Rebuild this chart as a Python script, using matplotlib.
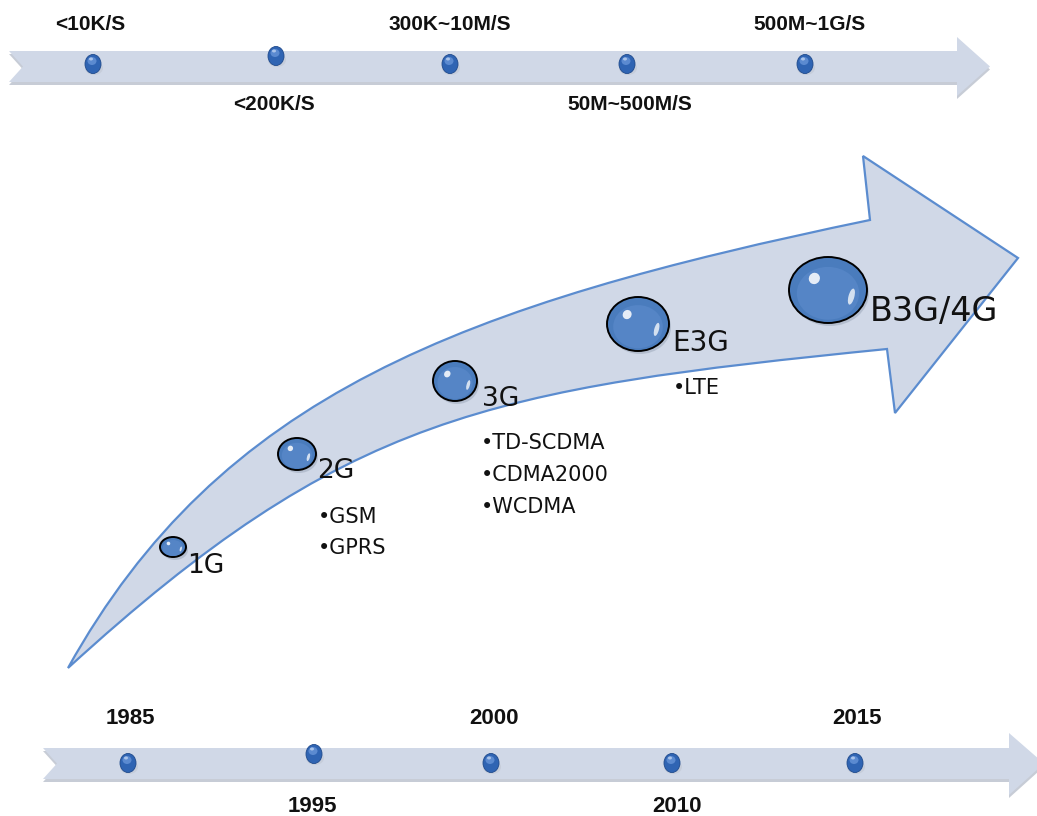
import numpy as np
import matplotlib
matplotlib.use('Agg')
import matplotlib.pyplot as plt
from matplotlib.patches import Polygon, Ellipse, PathPatch
from matplotlib.path import Path

# ---- contenido del diagrama ----
speed_labels = ['<10K/S', '<200K/S', '300K~10M/S', '50M~500M/S', '500M~1G/S']
years = ['1985', '1995', '2000', '2010', '2015']
generations = ['1G', '2G', '3G', 'E3G', 'B3G/4G']
techs = [[], ['GSM', 'GPRS'], ['TD-SCDMA', 'CDMA2000', 'WCDMA'], ['LTE'], []]

# ---- disposicion (pixeles de la imagen) ----
top_dot_x = [93, 276, 450, 627, 805]
top_dot_y = [64, 56, 64, 64, 64]
bot_dot_x = [128, 314, 491, 672, 855]
bot_dot_y = [763, 754, 763, 763, 763]
top_label_x = [90, 274, 450, 630, 810]
bot_label_x = [130, 312, 494, 677, 857]

gen_xy = [(173, 547), (297, 454), (455, 381), (638, 324), (828, 290)]
gen_r = [(13, 10), (19, 16), (22, 20), (31, 27), (39, 33)]
gen_lbl_xy = [(187, 566), (317, 471), (482, 399), (672, 343), (870, 312)]
gen_fs = [19, 19, 19, 20, 24]
tech_xy = [None, (318, 517), (481, 443), (673, 388), None]
tech_step = [0, 31, 32, 0, 0]

# flecha curva: cola, bordes (bezier) y punta
tail = (68, 668)
upper_ctrl = [(220, 395), (460, 305), (870, 220)]
head = [(863, 156), (1018, 258), (895, 413), (887, 349)]
lower_ctrl = [(487, 389), (345, 415), tail]

band_fill = '#d0d8e7'
band_shadow = '#b9c0cc'
edge_col = '#5b8ccf'
dot_col = '#2f64b3'
txt_col = '#111111'


def band(ax, x0, x1, y0, y1, hy0, hy1, tipx, notch):
    yc = (y0 + y1) / 2
    pts = [(x0, y0), (x1, y0), (x1, hy0), (tipx, yc), (x1, hy1), (x1, y1), (x0, y1), (x0 + notch, yc)]
    sh = [(x, y + 3) for x, y in pts]
    ax.add_patch(Polygon(sh, closed=True, fc=band_shadow, ec='none', alpha=0.8, zorder=1))
    ax.add_patch(Polygon(pts, closed=True, fc=band_fill, ec='none', zorder=2))


def dot(ax, x, y):
    ax.add_patch(Ellipse((x + 1, y + 4), 18, 14, fc='#c0c6d2', ec='none', alpha=0.6, zorder=3))
    ax.add_patch(Ellipse((x, y), 16, 19, fc=dot_col, ec='#1f4a8c', lw=0.6, zorder=4))
    ax.add_patch(Ellipse((x - 1, y - 3), 9, 8, fc='#5b8ad0', ec='none', zorder=5))
    ax.add_patch(Ellipse((x - 2, y - 5), 4, 3, fc='#a9c3ea', ec='none', zorder=6))


def bubble(ax, x, y, rx, ry):
    ax.add_patch(Ellipse((x + 2, y + 3), 2 * rx, 2 * ry, fc='#9aa6b8', ec='none', alpha=0.5, zorder=3))
    ax.add_patch(Ellipse((x, y), 2 * rx, 2 * ry, fc='#4a7cbd', ec='black', lw=1.4, zorder=4))
    ax.add_patch(Ellipse((x, y + ry * 0.1), 1.6 * rx, 1.6 * ry, fc='#5585c6', ec='none', zorder=5))
    ax.add_patch(Ellipse((x - rx * 0.35, y - ry * 0.35), 0.28 * rx, 0.35 * ry, angle=35,
                         fc='white', ec='none', alpha=0.85, zorder=6))
    ax.add_patch(Ellipse((x + rx * 0.6, y + ry * 0.2), 0.15 * rx, 0.5 * ry, angle=15,
                         fc='white', ec='none', alpha=0.75, zorder=6))


fig = plt.figure(figsize=(10.37, 8.16), dpi=100)
ax = fig.add_axes([0, 0, 1, 1])
ax.set_xlim(0, 1037)
ax.set_ylim(816, 0)
ax.axis('off')

# barra superior (velocidades)
band(ax, 9, 957, 51, 82, 37, 96, 990, 14)
for i, lab in enumerate(speed_labels):
    dot(ax, top_dot_x[i], top_dot_y[i])
    ly = 25 if i % 2 == 0 else 104
    ax.text(top_label_x[i], ly, lab, ha='center', va='center', fontsize=15,
            fontweight='bold', family='Liberation Sans', color=txt_col, zorder=7)

# barra inferior (anios)
band(ax, 43, 1009, 748, 779, 733, 795, 1044, 14)
for i, lab in enumerate(years):
    dot(ax, bot_dot_x[i], bot_dot_y[i])
    ly = 718 if i % 2 == 0 else 807
    ax.text(bot_label_x[i], ly, lab, ha='center', va='center', fontsize=16,
            fontweight='bold', family='Liberation Sans', color=txt_col, zorder=7)

# flecha curva grande
verts = [tail] + upper_ctrl + head + lower_ctrl + [tail]
codes = ([Path.MOVETO] + [Path.CURVE4] * 3 + [Path.LINETO] * 4 +
         [Path.CURVE4] * 3 + [Path.CLOSEPOLY])
ax.add_patch(PathPatch(Path(verts, codes), fc=band_fill, ec=edge_col, lw=1.6, zorder=2))

for i, g in enumerate(generations):
    x, y = gen_xy[i]
    rx, ry = gen_r[i]
    bubble(ax, x, y, rx, ry)
    lx, ly = gen_lbl_xy[i]
    ax.text(lx, ly, g, ha='left', va='center', fontsize=gen_fs[i], color=txt_col,
            family='DejaVu Sans', zorder=7)
    if techs[i]:
        tx, ty = tech_xy[i]
        for j, t in enumerate(techs[i]):
            ax.text(tx, ty + j * tech_step[i], '\u2022' + t, ha='left', va='center',
                    fontsize=15, color=txt_col, family='DejaVu Sans', zorder=7)

fig.savefig('out.png', dpi=100)
